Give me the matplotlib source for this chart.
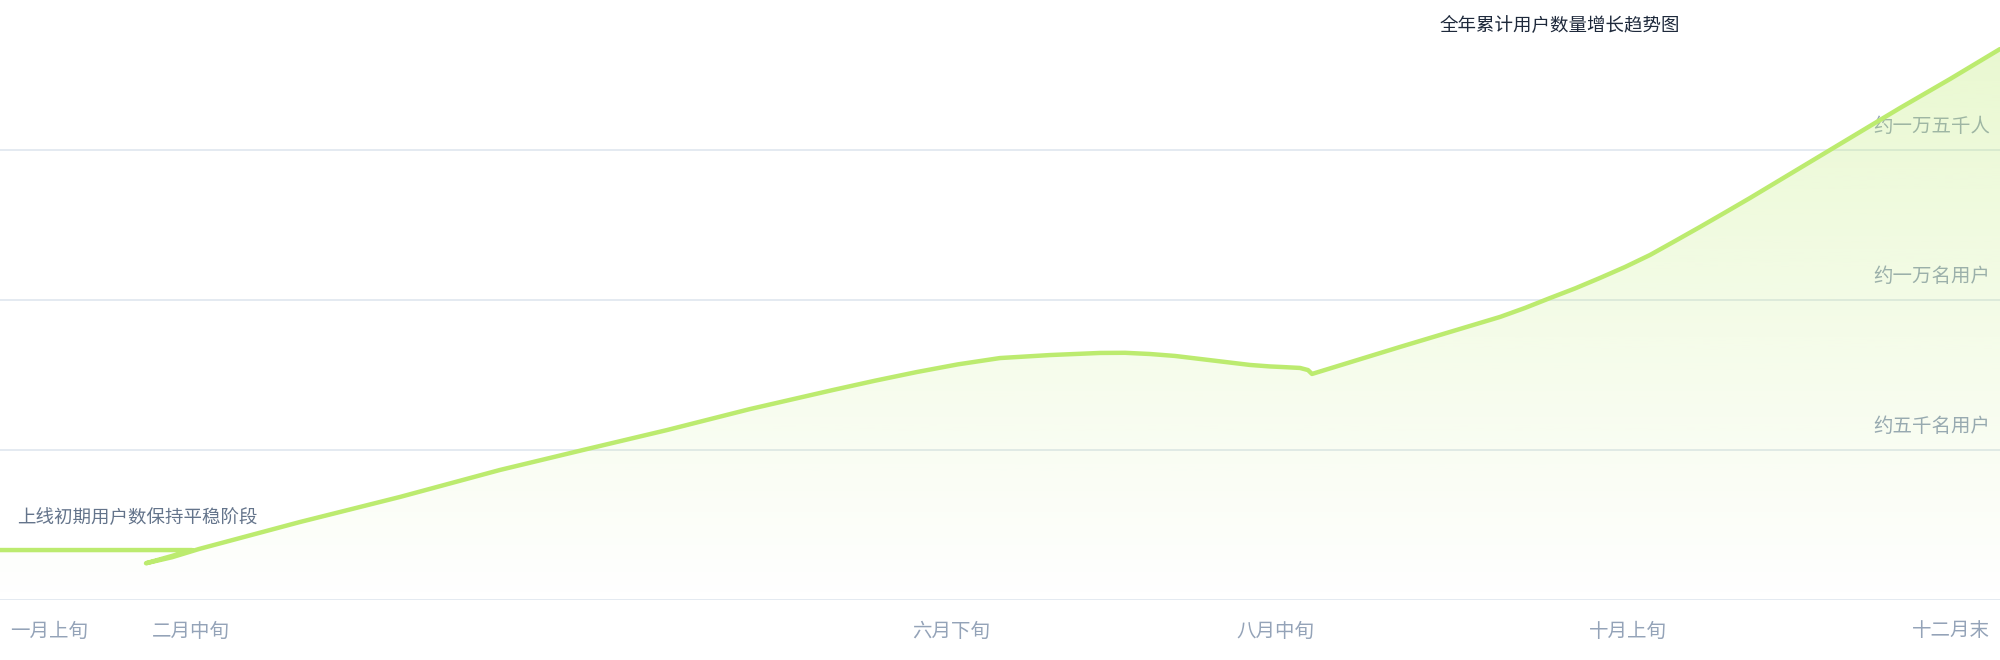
import numpy as np
import matplotlib.pyplot as plt
from matplotlib.patches import Polygon

plt.rcParams['font.family'] = ['Noto Sans CJK SC', 'DejaVu Sans']

# curve (x in chart units 0..2000, y in grid steps)
line_x = [0, 192, 170, 146, 172, 199, 300, 400, 500, 583, 667, 750, 833, 875,
          917, 958, 1000, 1025, 1050, 1075, 1100, 1125, 1150, 1175, 1200, 1225,
          1250, 1270, 1283, 1300, 1308, 1312, 1400, 1450, 1500, 1525, 1550,
          1575, 1600, 1625, 1650, 1675, 1700, 1725, 1750, 1800, 1850, 1900,
          1950, 2000]
line_y = [0.333, 0.333, 0.29, 0.245, 0.285, 0.34, 0.52, 0.687, 0.867, 1.0,
          1.133, 1.273, 1.4, 1.462, 1.52, 1.571, 1.613, 1.623, 1.633, 1.64,
          1.647, 1.648, 1.64, 1.627, 1.607, 1.587, 1.567, 1.557, 1.553, 1.547,
          1.533, 1.507, 1.687, 1.787, 1.887, 1.947, 2.013, 2.077, 2.147, 2.22,
          2.3, 2.393, 2.487, 2.583, 2.68, 2.88, 3.08, 3.28, 3.473, 3.673]

x_ticks = [0, 191, 951, 1275, 1628, 2000]
x_labels = ['一月上旬', '二月中旬', '六月下旬', '八月中旬', '十月上旬', '十二月末']
y_ticks = [1, 2, 3]
y_labels = ['约五千名用户', '约一万名用户', '约一万五千人']

title = '全年累计用户数量增长趋势图'
note = '上线初期用户数保持平稳阶段'

green = '#bceb6f'

fig = plt.figure(figsize=(20, 6.6), dpi=100)
ax = fig.add_axes([0, 60 / 660, 1, 600 / 660])
ax.axis('off')

for v in [0] + y_ticks:
    ax.axhline(v, color='#e2e8f0', lw=1.3, zorder=0)

for v, lab in zip(y_ticks, y_labels):
    ax.annotate(lab, xy=(1990, v), xytext=(0, 23), textcoords='offset pixels',
                ha='right', va='center', fontsize=14, color='#94a3b8', zorder=1)

# gradient fill under the curve
verts = list(zip(line_x, line_y)) + [(2000, 0), (0, 0)]
poly = Polygon(verts, closed=True, facecolor='none', edgecolor='none')
ax.add_patch(poly)
rgb = np.array([188, 235, 111]) / 255
grad = np.zeros((256, 1, 4))
grad[..., :3] = rgb
grad[:, 0, 3] = np.linspace(0.0, 0.32, 256)
im = ax.imshow(grad, extent=(0, 2000, 0, max(line_y)), origin='lower',
               aspect='auto', zorder=2)
im.set_clip_path(poly)

ax.plot(line_x, line_y, color=green, lw=3.2, solid_joinstyle='round',
        solid_capstyle='round', zorder=3)

for i, (x, lab) in enumerate(zip(x_ticks, x_labels)):
    ha, dx = 'center', 0
    if i == 0:
        ha, dx = 'left', 10
    elif i == len(x_ticks) - 1:
        ha, dx = 'right', -10
    ax.annotate(lab, xy=(x, 0), xytext=(dx, -31), textcoords='offset pixels',
                ha=ha, va='center', fontsize=14, color='#94a3b8',
                annotation_clip=False)

ax.text(1560, 3.83, title, ha='center', va='center', fontsize=13.3,
        color='#1e293b', zorder=4)
ax.text(17, 0.547, note, ha='left', va='center', fontsize=13.3,
        color='#64748b', zorder=4)

ax.set_xlim(0, 2000)
ax.set_ylim(0, 4)

fig.savefig('out.png', dpi=100)
